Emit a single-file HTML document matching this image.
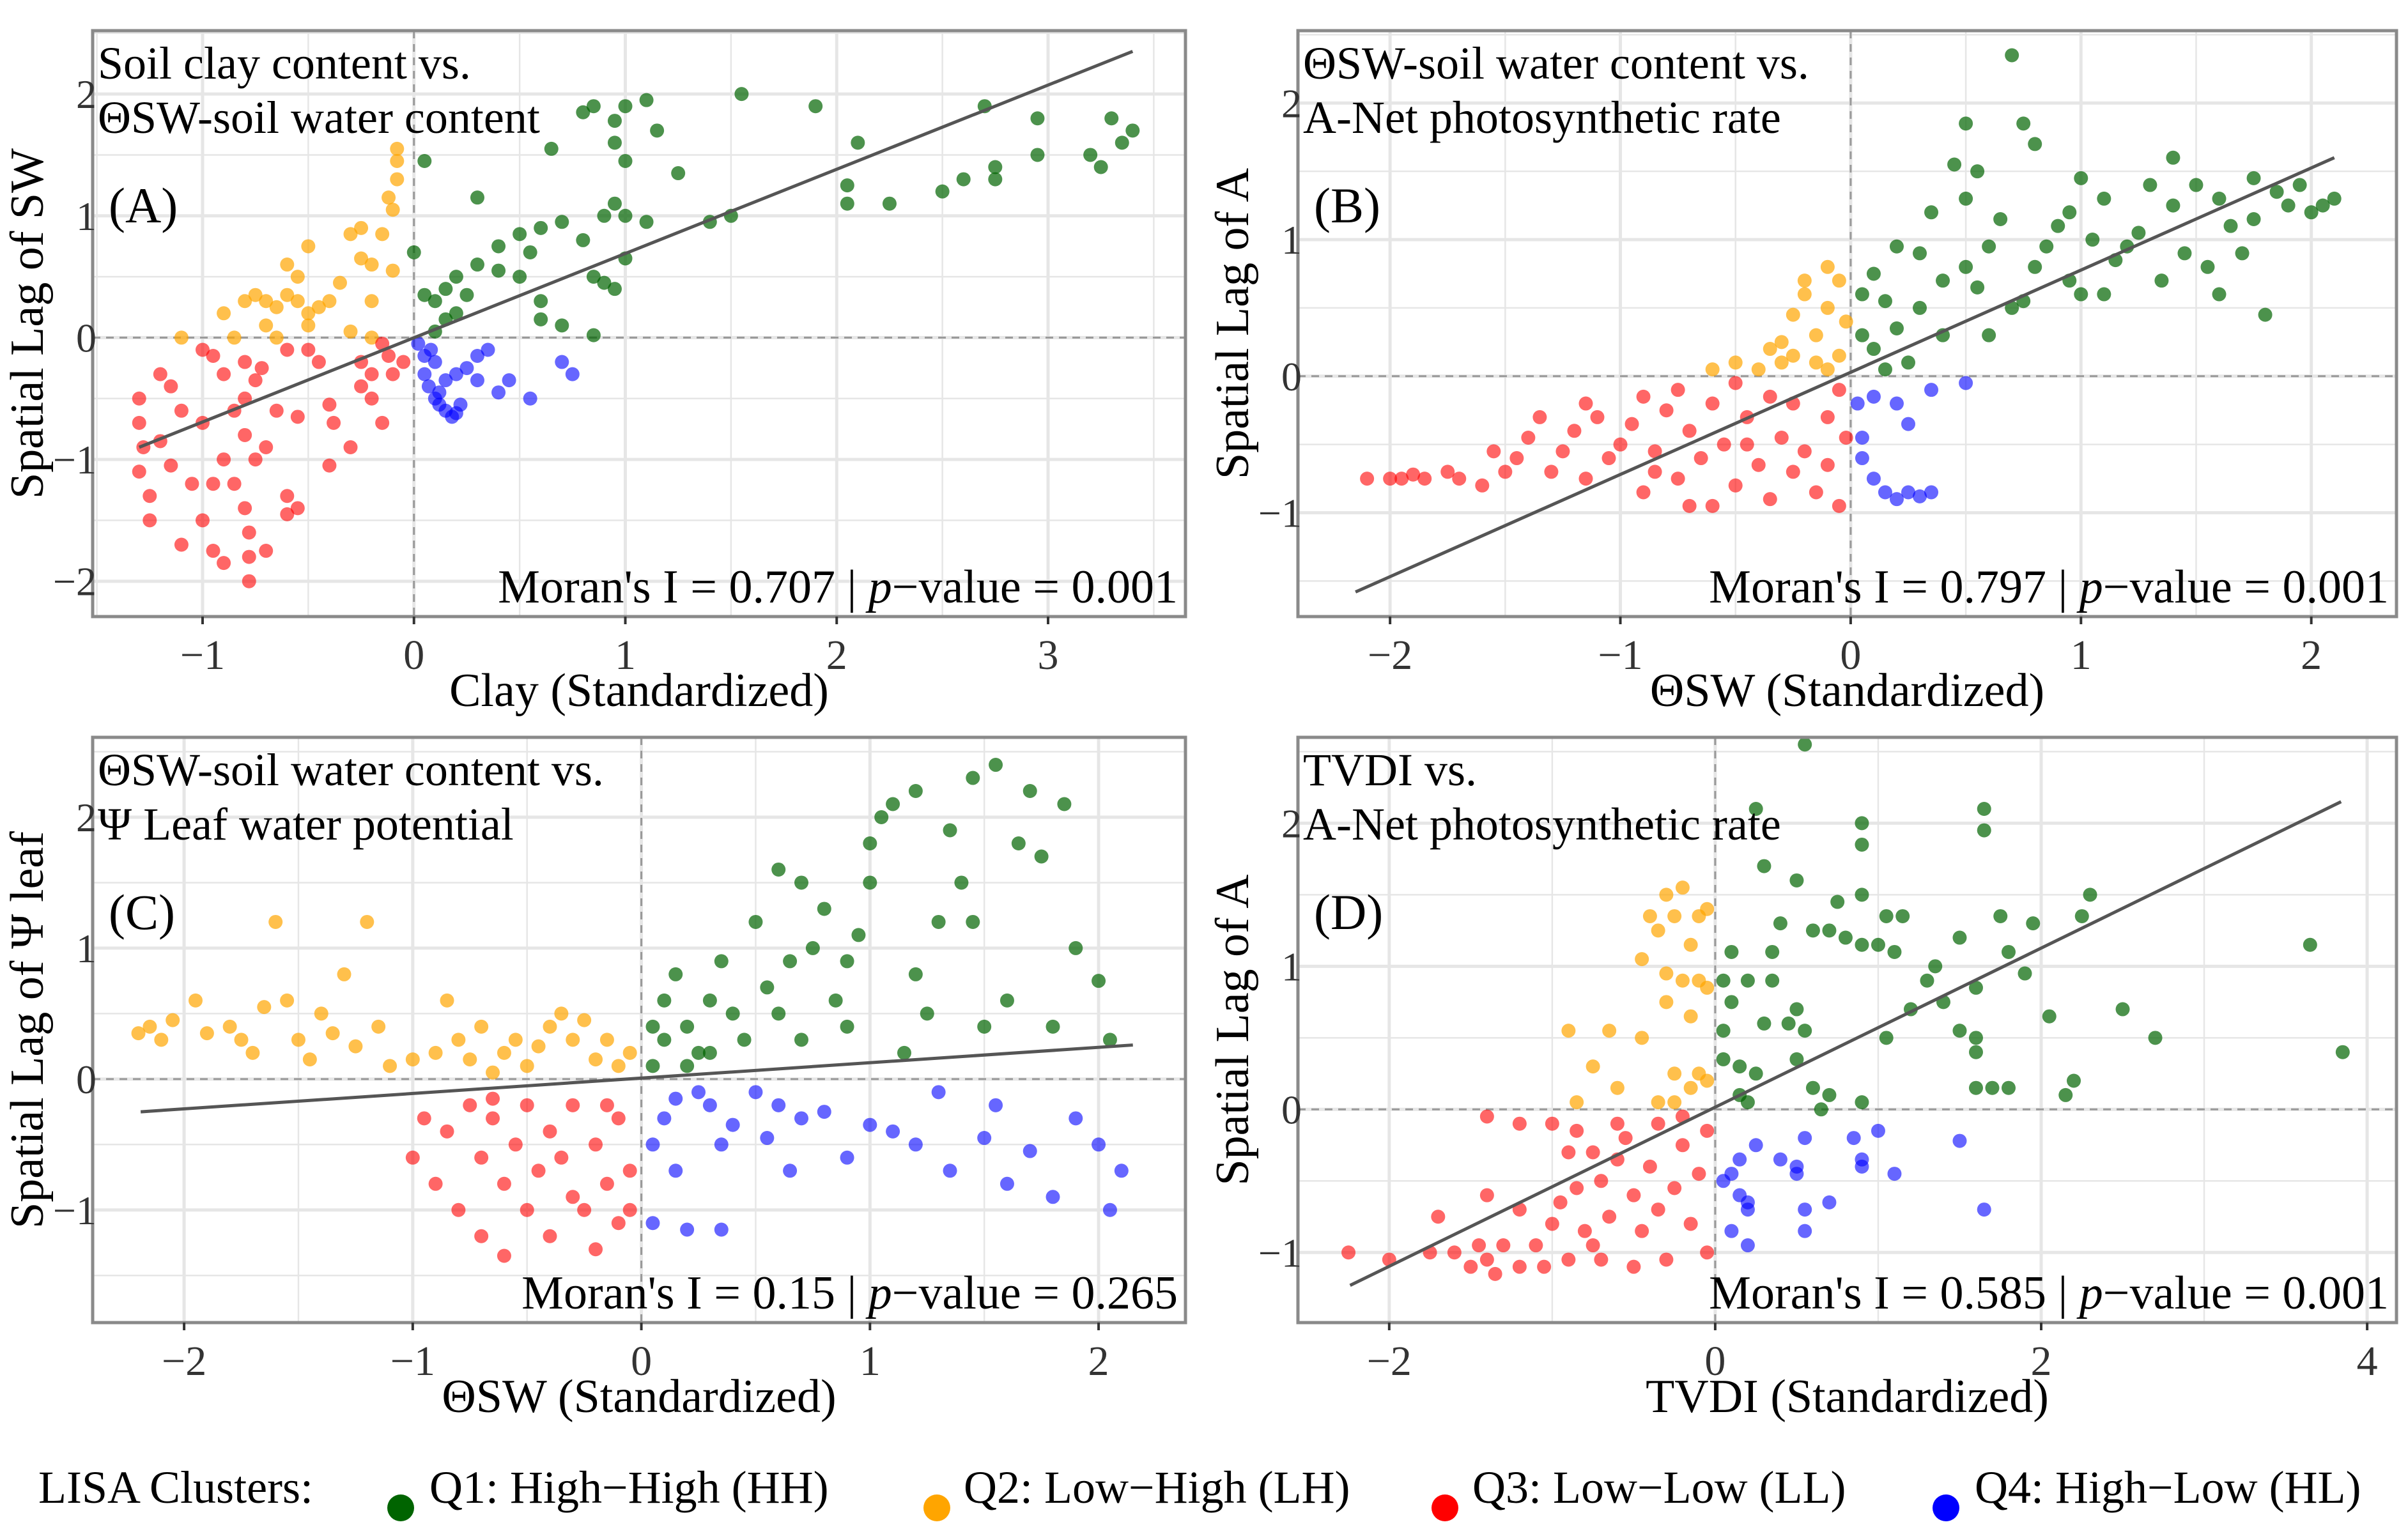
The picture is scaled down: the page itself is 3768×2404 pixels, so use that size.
<!DOCTYPE html>
<html><head><meta charset="utf-8">
<style>
html,body{margin:0;padding:0;background:#fff;}
svg{display:block;font-family:"Liberation Serif",serif;}
</style></head>
<body>
<svg id="chart" width="3768" height="2404" viewBox="0 0 3768 2404" xmlns="http://www.w3.org/2000/svg">
<rect width="3768" height="2404" fill="#fff"/>
<g id="legend">
  <text x="60" y="2352" font-size="72">LISA Clusters:</text>
  <circle cx="627" cy="2360" r="21" fill="darkgreen"/>
  <text x="672" y="2352" font-size="72">Q1: High−High (HH)</text>
  <circle cx="1466" cy="2360" r="21" fill="orange"/>
  <text x="1508" y="2352" font-size="72">Q2: Low−High (LH)</text>
  <circle cx="2261" cy="2360" r="21" fill="red"/>
  <text x="2304" y="2352" font-size="72">Q3: Low−Low (LL)</text>
  <circle cx="3045" cy="2360" r="21" fill="blue"/>
  <text x="3090" y="2352" font-size="72">Q4: High−Low (HL)</text>
</g>
</svg>
<script>
// ---------- Panel A data ----------
const aHH=[[0.05,0.35],[0.1,0.3],[0.15,0.4],[0.2,0.5],[0.3,0.6],[0.4,0.75],[0.5,0.85],[0.6,0.9],[0.7,0.95],[0.8,0.8],[0.85,0.5],[0.9,1.0],[0.95,1.1],[1.0,1.0],[1.0,0.65],[0.9,0.45],[0.95,0.4],[0.7,0.1],[0.6,0.3],[0.3,1.15],[0.05,1.45],[0.65,1.55],[0.95,1.6],[1.0,1.45],[1.0,1.9],[0.95,1.78],[0.8,1.85],[0.85,1.9],[1.1,1.95],[1.15,1.7],[1.25,1.35],[1.1,0.95],[1.4,0.95],[1.5,1.0],[1.55,2.0],[1.9,1.9],[2.05,1.25],[2.05,1.1],[2.1,1.6],[2.25,1.1],[2.5,1.2],[2.6,1.3],[2.75,1.3],[2.75,1.4],[2.7,1.9],[2.95,1.8],[2.95,1.5],[3.2,1.5],[3.25,1.4],[3.3,1.8],[3.35,1.6],[3.4,1.7],[0.15,0.15],[0.2,0.2],[0.1,0.05],[0.25,0.35],[0.4,0.55],[0.5,0.5],[0.55,0.7],[0.85,0.02],[0.0,0.7],[0.6,0.15]];
const aLH=[[-1.1,0.0],[-0.9,0.2],[-0.8,0.3],[-0.75,0.35],[-0.7,0.3],[-0.65,0.25],[-0.6,0.35],[-0.55,0.3],[-0.5,0.2],[-0.5,0.1],[-0.45,0.25],[-0.4,0.3],[-0.55,0.5],[-0.6,0.6],[-0.5,0.75],[-0.35,0.45],[-0.3,0.85],[-0.25,0.9],[-0.25,0.65],[-0.2,0.6],[-0.15,0.85],[-0.1,1.05],[-0.12,1.15],[-0.08,1.3],[-0.08,1.45],[-0.08,1.55],[-0.1,0.55],[-0.2,0.0],[-0.3,0.05],[-0.65,0.0],[-0.85,0.0],[-0.2,0.3],[-0.7,0.1]];
const aLL=[[-1.3,-0.5],[-1.3,-0.7],[-1.28,-0.9],[-1.3,-1.1],[-1.25,-1.3],[-1.25,-1.5],[-1.2,-0.3],[-1.2,-0.85],[-1.15,-0.4],[-1.15,-1.05],[-1.1,-1.7],[-1.05,-1.2],[-1.0,-1.5],[-1.0,-0.1],[-0.95,-0.15],[-0.95,-1.75],[-0.9,-1.0],[-0.9,-1.85],[-0.85,-0.6],[-0.85,-1.2],[-0.8,-0.8],[-0.8,-1.4],[-0.78,-1.6],[-0.78,-1.8],[-0.78,-2.0],[-0.8,-0.2],[-0.8,-0.5],[-0.75,-0.35],[-0.72,-0.25],[-0.75,-1.0],[-0.7,-0.9],[-0.7,-1.75],[-0.65,-0.6],[-0.6,-0.1],[-0.6,-1.3],[-0.6,-1.45],[-0.55,-0.65],[-0.55,-1.4],[-0.5,-0.1],[-0.45,-0.2],[-0.4,-0.55],[-0.4,-1.05],[-0.38,-0.7],[-0.3,-0.9],[-0.25,-0.2],[-0.25,-0.4],[-0.2,-0.5],[-0.15,-0.05],[-0.12,-0.15],[-0.1,-0.3],[-0.05,-0.2],[-0.15,-0.7],[-0.2,-0.3],[-1.1,-0.6],[-1.0,-0.7],[-0.9,-0.3],[-0.95,-1.2]];
const aHL=[[0.02,-0.05],[0.05,-0.15],[0.05,-0.3],[0.07,-0.4],[0.1,-0.5],[0.1,-0.2],[0.12,-0.55],[0.15,-0.6],[0.18,-0.65],[0.2,-0.62],[0.15,-0.35],[0.2,-0.3],[0.25,-0.25],[0.3,-0.15],[0.35,-0.1],[0.3,-0.35],[0.4,-0.45],[0.45,-0.35],[0.55,-0.5],[0.7,-0.2],[0.75,-0.3],[0.08,-0.1],[0.22,-0.55],[0.12,-0.45]];
// ---------- Panel B data ----------
const bHH=[[0.05,0.3],[0.05,0.6],[0.1,0.75],[0.15,0.55],[0.2,0.35],[0.3,0.5],[0.4,0.7],[0.5,0.8],[0.55,0.65],[0.6,0.95],[0.65,1.15],[0.7,0.5],[0.75,0.55],[0.8,0.8],[0.85,0.95],[0.9,1.1],[0.95,1.2],[1.0,0.6],[1.05,1.0],[1.1,1.3],[1.15,0.85],[1.2,0.95],[1.25,1.05],[1.3,1.4],[1.35,0.7],[1.4,1.25],[1.45,0.9],[1.5,1.4],[1.55,0.8],[1.6,1.3],[1.65,1.1],[1.7,0.9],[1.75,1.15],[1.8,0.45],[1.85,1.35],[1.9,1.25],[1.95,1.4],[2.0,1.2],[2.05,1.25],[2.1,1.3],[0.5,1.3],[0.45,1.55],[0.55,1.5],[0.5,1.85],[0.75,1.85],[0.7,2.35],[0.8,1.7],[0.3,0.9],[0.35,1.2],[0.2,0.95],[0.25,0.1],[0.6,0.3],[0.95,0.7],[1.1,0.6],[1.6,0.6],[1.4,1.6],[0.1,0.2],[0.15,0.05],[0.4,0.3],[1.75,1.45],[1.0,1.45]];
const bLH=[[-0.6,0.05],[-0.5,0.1],[-0.4,0.05],[-0.35,0.2],[-0.3,0.1],[-0.25,0.45],[-0.2,0.6],[-0.15,0.3],[-0.1,0.5],[-0.1,0.05],[-0.05,0.15],[-0.05,0.7],[-0.25,0.15],[-0.15,0.1],[-0.3,0.25],[-0.2,0.7],[-0.1,0.8],[-0.02,0.4]];
const bLL=[[-2.1,-0.75],[-2.0,-0.75],[-1.95,-0.75],[-1.9,-0.72],[-1.85,-0.75],[-1.75,-0.7],[-1.7,-0.75],[-1.6,-0.8],[-1.55,-0.55],[-1.5,-0.7],[-1.45,-0.6],[-1.4,-0.45],[-1.3,-0.7],[-1.25,-0.55],[-1.2,-0.4],[-1.15,-0.75],[-1.1,-0.3],[-1.05,-0.6],[-1.0,-0.5],[-0.95,-0.35],[-0.9,-0.85],[-0.85,-0.55],[-0.8,-0.25],[-0.75,-0.75],[-0.7,-0.4],[-0.65,-0.6],[-0.6,-0.2],[-0.6,-0.95],[-0.55,-0.5],[-0.5,-0.05],[-0.5,-0.8],[-0.45,-0.3],[-0.4,-0.65],[-0.35,-0.15],[-0.35,-0.9],[-0.3,-0.45],[-0.25,-0.2],[-0.25,-0.7],[-0.2,-0.55],[-0.15,-0.85],[-0.1,-0.3],[-0.1,-0.65],[-0.05,-0.1],[-0.05,-0.95],[-0.02,-0.45],[-1.35,-0.3],[-0.9,-0.15],[-0.75,-0.1],[-1.15,-0.2],[-0.7,-0.95],[-0.45,-0.5],[-0.85,-0.7]];
const bHL=[[0.05,-0.45],[0.05,-0.6],[0.1,-0.75],[0.15,-0.85],[0.2,-0.9],[0.25,-0.85],[0.3,-0.88],[0.35,-0.85],[0.2,-0.2],[0.25,-0.35],[0.35,-0.1],[0.5,-0.05],[0.03,-0.2],[0.1,-0.15]];
// ---------- Panel C data ----------
const cHH=[[0.05,0.1],[0.1,0.3],[0.1,0.6],[0.15,0.8],[0.2,0.4],[0.25,0.2],[0.3,0.6],[0.35,0.9],[0.4,0.5],[0.45,0.3],[0.5,1.2],[0.55,0.7],[0.6,0.5],[0.65,0.9],[0.7,0.3],[0.75,1.0],[0.8,1.3],[0.85,0.6],[0.9,0.4],[0.95,1.1],[1.0,1.8],[1.05,2.0],[1.1,2.1],[1.15,0.2],[1.2,0.8],[1.25,0.5],[1.3,1.2],[1.35,1.9],[1.4,1.5],[1.45,2.3],[1.5,0.4],[1.55,2.4],[1.6,0.6],[1.65,1.8],[1.7,2.2],[1.75,1.7],[1.8,0.4],[1.85,2.1],[1.9,1.0],[2.0,0.75],[2.05,0.3],[0.6,1.6],[0.7,1.5],[1.0,1.5],[1.2,2.2],[0.3,0.2],[0.05,0.4],[0.2,0.1],[1.45,1.2],[0.9,0.9]];
const cLH=[[-2.2,0.35],[-2.15,0.4],[-2.1,0.3],[-2.05,0.45],[-1.95,0.6],[-1.9,0.35],[-1.8,0.4],[-1.75,0.3],[-1.7,0.2],[-1.65,0.55],[-1.6,1.2],[-1.55,0.6],[-1.5,0.3],[-1.45,0.15],[-1.4,0.5],[-1.35,0.35],[-1.3,0.8],[-1.25,0.25],[-1.2,1.2],[-1.15,0.4],[-1.1,0.1],[-1.0,0.15],[-0.85,0.6],[-0.8,0.3],[-0.75,0.15],[-0.7,0.4],[-0.6,0.2],[-0.55,0.3],[-0.5,0.1],[-0.45,0.25],[-0.35,0.5],[-0.3,0.3],[-0.25,0.45],[-0.2,0.15],[-0.15,0.3],[-0.1,0.1],[-0.05,0.2],[-0.4,0.4],[-0.65,0.05],[-0.9,0.2]];
const cLL=[[-1.0,-0.6],[-0.95,-0.3],[-0.9,-0.8],[-0.85,-0.4],[-0.8,-1.0],[-0.75,-0.2],[-0.7,-0.6],[-0.7,-1.2],[-0.65,-0.3],[-0.6,-0.8],[-0.6,-1.35],[-0.55,-0.5],[-0.5,-0.2],[-0.5,-1.0],[-0.45,-0.7],[-0.4,-0.4],[-0.4,-1.2],[-0.35,-0.6],[-0.3,-0.9],[-0.3,-0.2],[-0.25,-1.0],[-0.2,-0.5],[-0.2,-1.3],[-0.15,-0.8],[-0.1,-1.1],[-0.1,-0.3],[-0.05,-0.7],[-0.05,-1.0],[-0.65,-0.15],[-0.15,-0.2]];
const cHL=[[0.05,-0.5],[0.05,-1.1],[0.1,-0.3],[0.15,-0.7],[0.2,-1.15],[0.25,-0.1],[0.3,-0.2],[0.35,-0.5],[0.35,-1.15],[0.4,-0.35],[0.5,-0.1],[0.55,-0.45],[0.6,-0.2],[0.65,-0.7],[0.7,-0.3],[0.8,-0.25],[0.9,-0.6],[1.0,-0.35],[1.1,-0.4],[1.2,-0.5],[1.3,-0.1],[1.35,-0.7],[1.5,-0.45],[1.55,-0.2],[1.6,-0.8],[1.7,-0.55],[1.8,-0.9],[1.9,-0.3],[2.0,-0.5],[2.05,-1.0],[2.1,-0.7],[0.15,-0.15]];
// ---------- Panel D data ----------
const dHH=[[0.55,2.55],[0.25,2.1],[1.65,2.1],[1.65,1.95],[0.9,2.0],[0.9,1.85],[0.3,1.7],[0.5,1.6],[0.75,1.45],[0.9,1.5],[1.05,1.35],[1.15,1.35],[1.75,1.35],[1.95,1.3],[2.3,1.5],[2.25,1.35],[0.4,1.3],[0.6,1.25],[0.7,1.25],[0.8,1.2],[0.9,1.15],[0.1,1.1],[0.35,1.1],[1.0,1.15],[1.1,1.1],[1.5,1.2],[1.8,1.1],[3.65,1.15],[1.35,1.0],[1.9,0.95],[0.05,0.9],[0.2,0.9],[0.35,0.9],[1.3,0.9],[1.6,0.85],[0.1,0.75],[0.5,0.7],[0.45,0.6],[1.2,0.7],[1.4,0.75],[2.5,0.7],[2.05,0.65],[0.05,0.55],[0.3,0.6],[0.55,0.55],[1.05,0.5],[1.5,0.55],[1.6,0.5],[2.7,0.5],[3.85,0.4],[0.05,0.35],[0.15,0.3],[0.25,0.25],[0.5,0.35],[1.6,0.4],[0.15,0.1],[0.6,0.15],[0.7,0.1],[0.9,0.05],[1.6,0.15],[1.7,0.15],[1.8,0.15],[2.2,0.2],[2.15,0.1],[0.65,0.0],[0.2,0.05]];
const dLH=[[-0.3,1.5],[-0.2,1.55],[-0.4,1.35],[-0.25,1.35],[-0.35,1.25],[-0.05,1.4],[-0.1,1.35],[-0.15,1.15],[-0.45,1.05],[-0.3,0.95],[-0.2,0.9],[-0.1,0.9],[-0.05,0.85],[-0.3,0.75],[-0.15,0.65],[-0.9,0.55],[-0.65,0.55],[-0.45,0.5],[-0.75,0.3],[-0.25,0.25],[-0.1,0.25],[-0.05,0.2],[-0.15,0.15],[-0.6,0.15],[-0.85,0.05],[-0.35,0.05],[-0.25,0.05]];
const dLL=[[-2.25,-1.0],[-2.0,-1.05],[-1.7,-0.75],[-1.75,-1.0],[-1.6,-1.0],[-1.5,-1.1],[-1.45,-0.95],[-1.4,-1.05],[-1.35,-1.15],[-1.4,-0.6],[-1.3,-0.95],[-1.2,-1.1],[-1.2,-0.7],[-1.1,-0.95],[-1.05,-1.1],[-1.0,-0.8],[-0.95,-0.65],[-0.9,-1.05],[-0.85,-0.55],[-0.8,-0.85],[-0.75,-0.95],[-0.7,-0.5],[-0.7,-1.05],[-0.65,-0.75],[-0.6,-0.35],[-0.55,-0.2],[-0.5,-0.6],[-0.5,-1.1],[-0.45,-0.85],[-0.4,-0.4],[-0.35,-0.1],[-0.35,-0.7],[-0.3,-1.05],[-0.25,-0.55],[-0.2,-0.25],[-0.15,-0.8],[-0.1,-0.45],[-0.05,-0.15],[-0.05,-1.0],[-1.4,-0.05],[-1.2,-0.1],[-1.0,-0.1],[-0.85,-0.15],[-0.9,-0.3],[-0.75,-0.3],[-0.6,-0.1],[-0.2,-0.05]];
const dHL=[[0.05,-0.5],[0.1,-0.45],[0.15,-0.35],[0.2,-0.65],[0.2,-0.7],[0.25,-0.25],[0.1,-0.85],[0.2,-0.95],[0.4,-0.35],[0.5,-0.4],[0.5,-0.45],[0.55,-0.2],[0.55,-0.7],[0.55,-0.85],[0.7,-0.65],[0.85,-0.2],[0.9,-0.35],[0.9,-0.4],[1.0,-0.15],[1.1,-0.45],[1.5,-0.22],[1.65,-0.7],[0.15,-0.6]];
// ---------- Tick labels, statistics, regression endpoints ----------
const aXTicks=[-1,0,1,2,3], aYTicks=[-2,-1,0,1,2];
const bXTicks=[-2,-1,0,1,2], bYTicks=[-1,0,1,2];
const cXTicks=[-2,-1,0,1,2], cYTicks=[-1,0,1,2];
const dXTicks=[-2,0,2,4], dYTicks=[-1,0,1,2];
const moranI=[0.707,0.797,0.15,0.585];
const pValues=["0.001","0.001","0.265","0.001"];
const lineA=[[-1.3,-0.9],[3.4,2.35]];
const lineB=[[-2.15,-1.58],[2.1,1.6]];
const lineC=[[-2.19,-0.25],[2.15,0.26]];
const lineD=[[-2.24,-1.23],[3.84,2.15]];

const NS="http://www.w3.org/2000/svg";
const svg=document.getElementById('chart');
function mk(tag,attrs,parent){const e=document.createElementNS(NS,tag);for(const k in attrs)e.setAttribute(k,attrs[k]);parent.appendChild(e);return e;}
const fmt=v=>v<0?'−'+Math.abs(v):String(v);

const panels=[
 {id:'a',box:[145,48,1855,965],xd:[-1.52,3.65],yd:[-2.29,2.52],xt:aXTicks,yt:aYTicks,hh:aHH,lh:aLH,ll:aLL,hl:aHL,ln:lineA,
  t1:'Soil clay content vs.',t2:'ΘSW-soil water content',lab:'(A)',xl:'Clay (Standardized)',yl:'Spatial Lag of SW'},
 {id:'b',box:[2031,48,3750,965],xd:[-2.4,2.37],yd:[-1.76,2.53],xt:bXTicks,yt:bYTicks,hh:bHH,lh:bLH,ll:bLL,hl:bHL,ln:lineB,
  t1:'ΘSW-soil water content vs.',t2:'A-Net photosynthetic rate',lab:'(B)',xl:'ΘSW (Standardized)',yl:'Spatial Lag of A'},
 {id:'c',box:[145,1154,1855,2070],xd:[-2.4,2.38],yd:[-1.86,2.61],xt:cXTicks,yt:cYTicks,hh:cHH,lh:cLH,ll:cLL,hl:cHL,ln:lineC,
  t1:'ΘSW-soil water content vs.',t2:'Ψ Leaf water potential',lab:'(C)',xl:'ΘSW (Standardized)',yl:'Spatial Lag of Ψ leaf'},
 {id:'d',box:[2031,1154,3750,2070],xd:[-2.56,4.18],yd:[-1.49,2.6],xt:dXTicks,yt:dYTicks,hh:dHH,lh:dLH,ll:dLL,hl:dHL,ln:lineD,
  t1:'TVDI vs.',t2:'A-Net photosynthetic rate',lab:'(D)',xl:'TVDI (Standardized)',yl:'Spatial Lag of A'}
];

panels.forEach((p,i)=>{
  const [L,T,R,B]=p.box;
  const sx=v=>L+(v-p.xd[0])/(p.xd[1]-p.xd[0])*(R-L);
  const sy=v=>B-(v-p.yd[0])/(p.yd[1]-p.yd[0])*(B-T);
  const g=mk('g',{},svg);
  
  
  mk('rect',{x:L,y:T,width:R-L,height:B-T,fill:'#fff'},g);
  const step=p.xt[1]-p.xt[0];
  for(let v=p.xt[0]-step;v<=p.xt[p.xt.length-1]+step;v+=step/2){
    const x=sx(v); if(x<L||x>R) continue;
    const gl=mk('line',{x1:x,x2:x,y1:T,y2:B,stroke:'#e6e6e6','stroke-width':(Math.abs(v/step-Math.round(v/step))<1e-6)?5:2.5},g);
    
    
  }
  const ys=p.yt[1]-p.yt[0];
  for(let v=p.yt[0]-ys;v<=p.yt[p.yt.length-1]+ys;v+=ys/2){
    const y=sy(v); if(y<T||y>B) continue;
    const gl=mk('line',{x1:L,x2:R,y1:y,y2:y,stroke:'#e6e6e6','stroke-width':(Math.abs(v/ys-Math.round(v/ys))<1e-6)?5:2.5},g);
    
    
  }
  const zx=mk('line',{x1:sx(0),x2:sx(0),y1:T,y2:B,stroke:'#999','stroke-width':3,'stroke-dasharray':'12,9'},g);
  
  
  const zy=mk('line',{x1:L,x2:R,y1:sy(0),y2:sy(0),stroke:'#999','stroke-width':3,'stroke-dasharray':'12,9'},g);
  
  
  const groups=[['hh',p.hh,'darkgreen',0.7],['lh',p.lh,'orange',0.7],['ll',p.ll,'red',0.6],['hl',p.hl,'blue',0.6]];
  groups.forEach(([nm,arr,col,op])=>{
    arr.forEach(d=>{
      const c=mk('circle',{cx:sx(d[0]),cy:sy(d[1]),r:11,fill:col,'fill-opacity':op},g);
      
      
    });
  });
  const rl=mk('line',{x1:sx(p.ln[0][0]),y1:sy(p.ln[0][1]),x2:sx(p.ln[1][0]),y2:sy(p.ln[1][1]),stroke:'#555','stroke-width':5},g);
  
  
  const bd=mk('rect',{x:L,y:T,width:R-L,height:B-T,fill:'none',stroke:'#8a8a8a','stroke-width':5},g);
  
  
  p.xt.forEach(v=>{
    const tk=mk('line',{x1:sx(v),x2:sx(v),y1:B,y2:B+12,stroke:'#333','stroke-width':4},g);
    
    
    const t=mk('text',{x:sx(v),y:B+82,'font-size':66,'text-anchor':'middle',fill:'#333'},g);
    t.textContent=fmt(v);
    
    
  });
  p.yt.forEach(v=>{
    const t=mk('text',{x:L+6,y:sy(v)+22,'font-size':64,'text-anchor':'end',fill:'#333'},g);
    t.textContent=fmt(v);
    
    
  });
  const t1=mk('text',{x:L+8,y:T+75,'font-size':72,fill:'#000'},g);
  t1.textContent=p.t1;
  
  
  const t2=mk('text',{x:L+8,y:T+160,'font-size':72,fill:'#000'},g);
  t2.textContent=p.t2;
  
  
  const lb=mk('text',{x:L+25,y:T+300,'font-size':78,fill:'#000'},g);
  lb.textContent=p.lab;
  
  
  const mt=mk('text',{x:R-12,y:B-22,'font-size':74,'text-anchor':'end',fill:'#000'},g);
  mt.innerHTML="Moran's I = "+moranI[i]+" | <tspan font-style='italic'>p</tspan>−value = "+pValues[i];
  
  
  const xt=mk('text',{x:(L+R)/2,y:B+140,'font-size':74,'text-anchor':'middle',fill:'#000'},g);
  xt.textContent=p.xl;
  
  
  const yc=(T+B)/2;
  const yt=mk('text',{x:0,y:0,'font-size':74,'text-anchor':'middle',fill:'#000',transform:'translate('+(L-78)+','+yc+') rotate(-90)'},g);
  yt.textContent=p.yl;
  
  
});
</script>
</body></html>
